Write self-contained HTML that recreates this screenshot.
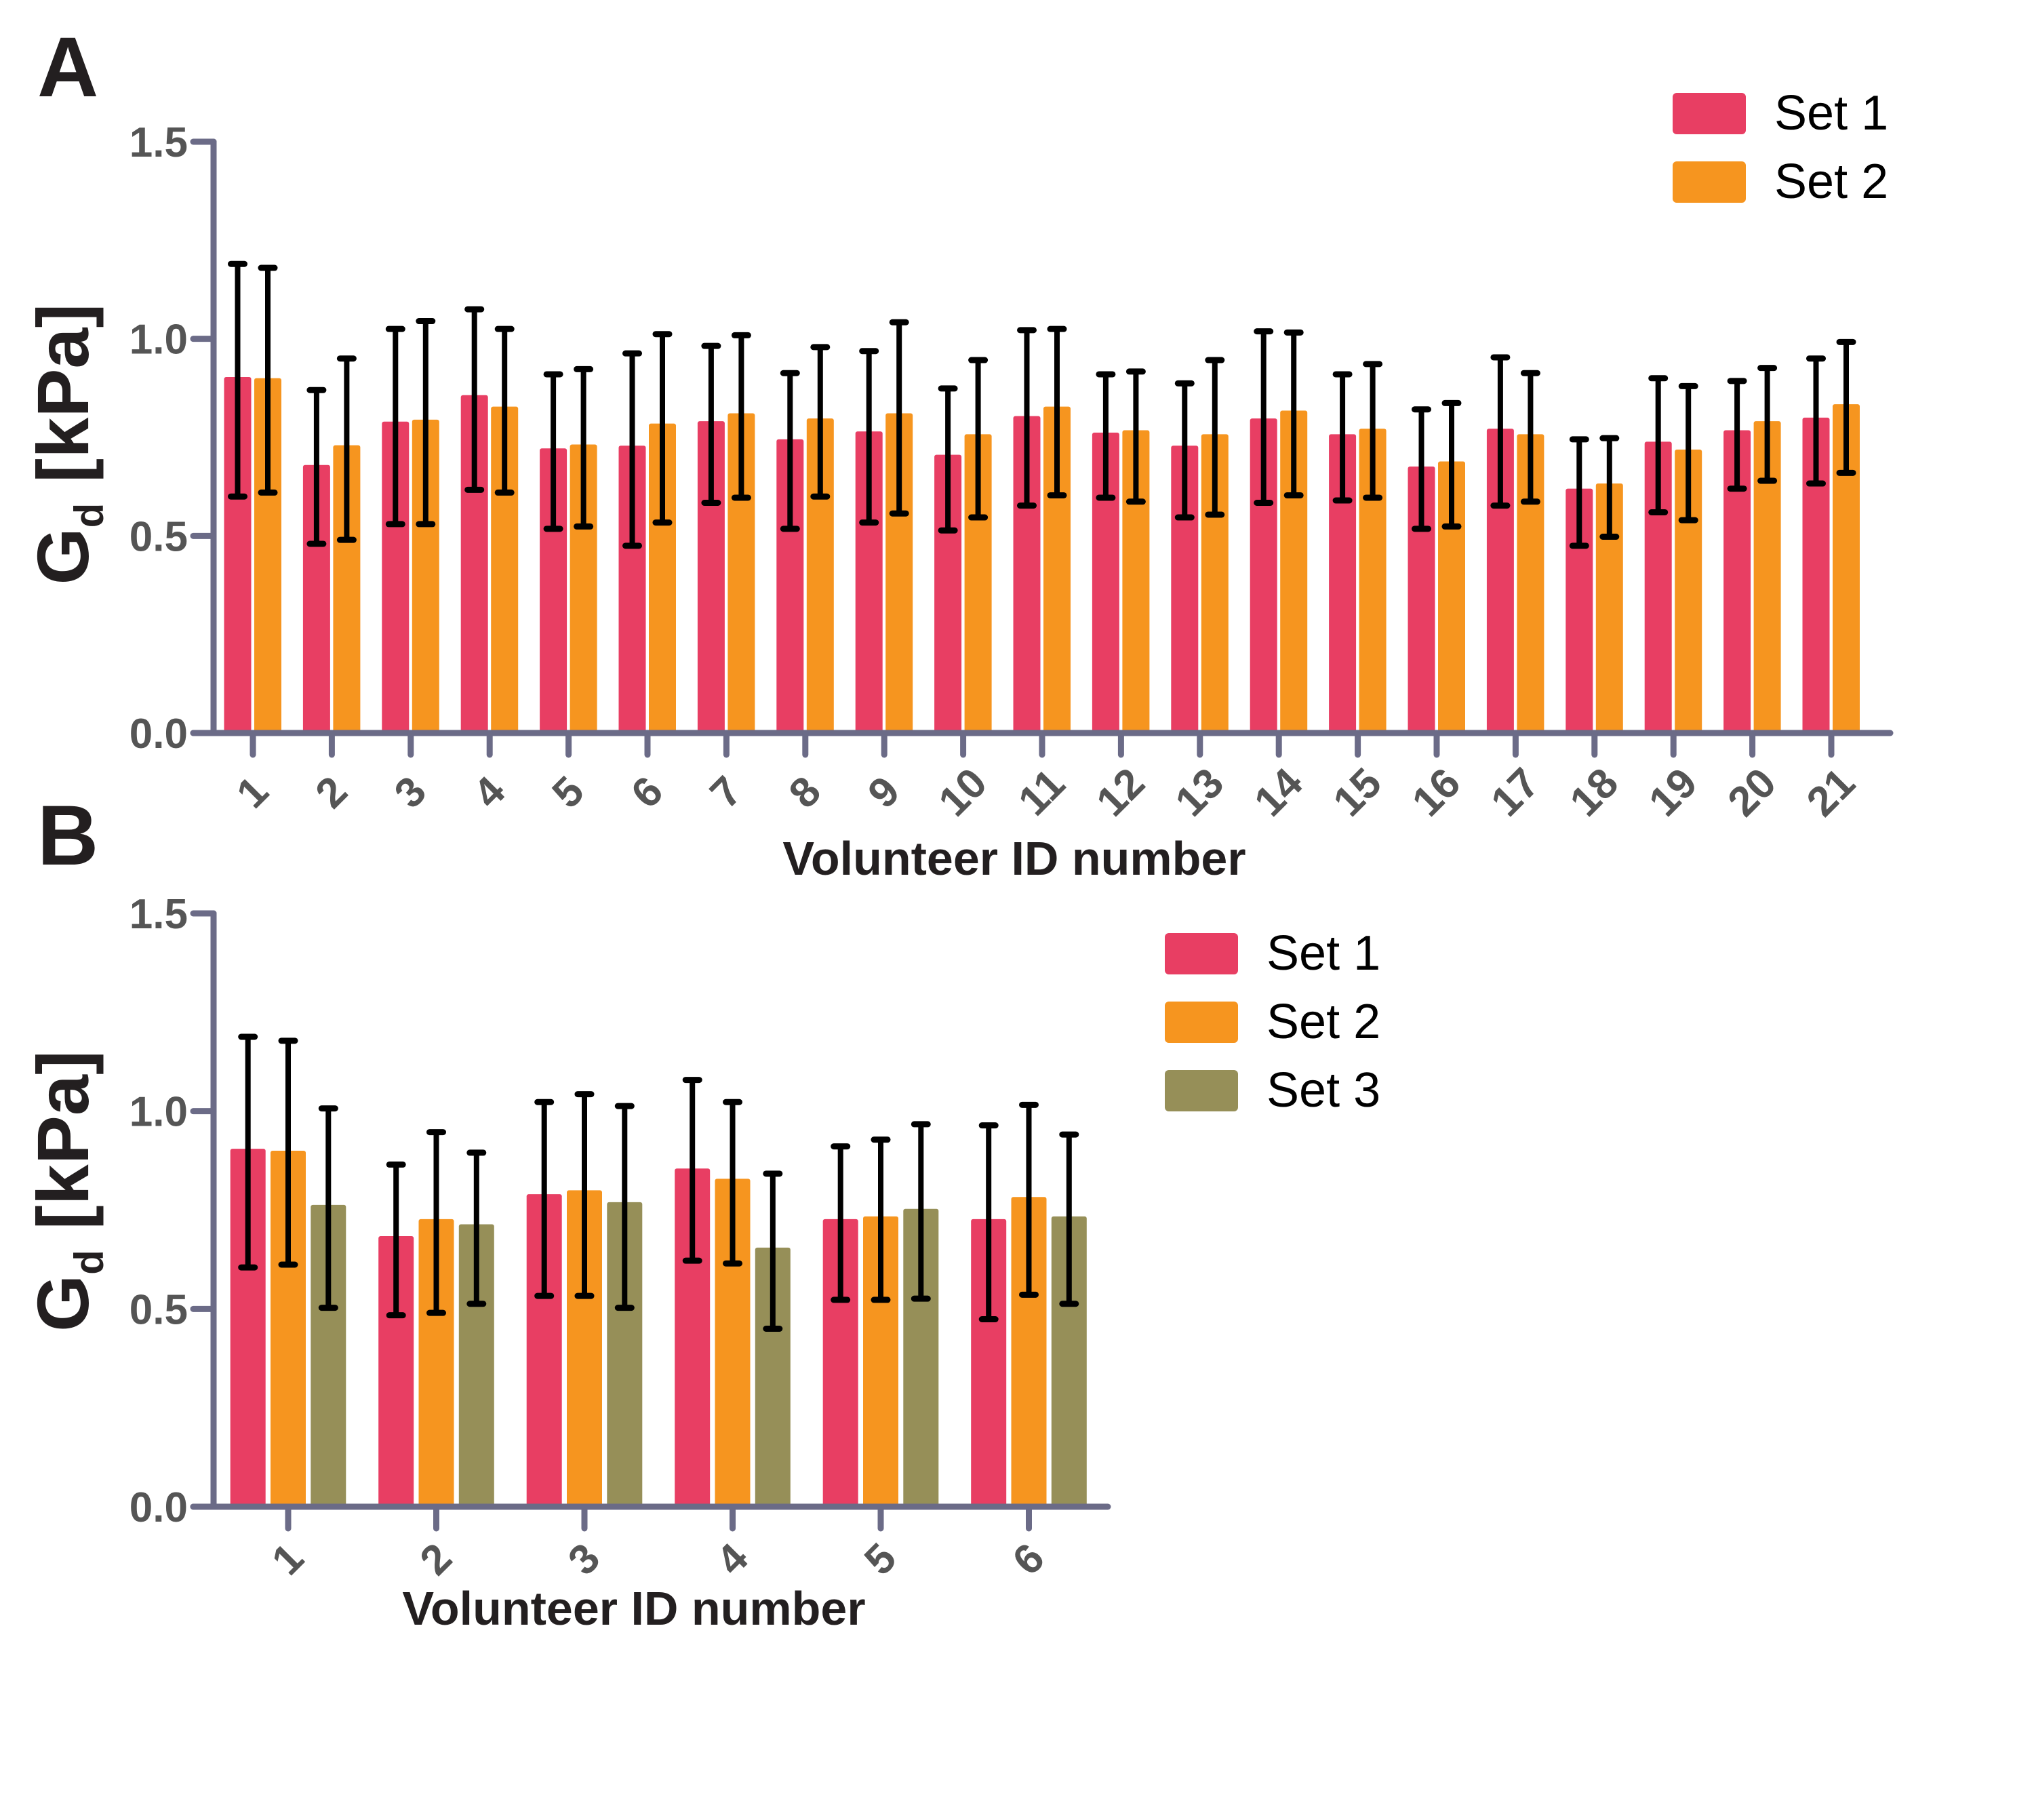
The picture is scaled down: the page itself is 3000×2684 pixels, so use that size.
<!DOCTYPE html>
<html><head><meta charset="utf-8">
<style>
html,body{margin:0;padding:0;background:#fff;}
svg{display:block;}
text{font-family:"Liberation Sans",Arial,sans-serif;}
</style></head>
<body>
<svg id="fig" width="3000" height="2684" viewBox="0 0 3000 2684" xmlns="http://www.w3.org/2000/svg"></svg>
<script>
// ---- Panel A data ----
const catsA = ["1","2","3","4","5","6","7","8","9","10","11","12","13","14","15","16","17","18","19","20","21"];
const a1Mean = [0.903,0.68,0.79,0.857,0.722,0.729,0.791,0.745,0.765,0.706,0.804,0.762,0.729,0.798,0.758,0.676,0.772,0.62,0.739,0.768,0.80];
const a1Hi   = [1.19,0.87,1.025,1.075,0.91,0.963,0.982,0.913,0.969,0.874,1.022,0.91,0.887,1.019,0.91,0.821,0.953,0.745,0.90,0.893,0.95];
const a1Lo   = [0.60,0.48,0.53,0.617,0.518,0.475,0.584,0.518,0.534,0.514,0.577,0.597,0.547,0.584,0.59,0.518,0.577,0.475,0.56,0.62,0.633];
const a2Mean = [0.90,0.73,0.795,0.828,0.732,0.785,0.811,0.798,0.811,0.758,0.828,0.768,0.758,0.818,0.772,0.689,0.758,0.633,0.719,0.791,0.834];
const a2Hi   = [1.18,0.95,1.045,1.025,0.923,1.012,1.009,0.979,1.042,0.946,1.025,0.917,0.946,1.016,0.936,0.837,0.913,0.748,0.88,0.926,0.992];
const a2Lo   = [0.61,0.49,0.53,0.61,0.524,0.534,0.597,0.60,0.557,0.547,0.603,0.587,0.554,0.603,0.597,0.524,0.587,0.498,0.54,0.64,0.66];
// ---- Panel B data ----
const catsB = ["1","2","3","4","5","6"];
const b1Mean = [0.905,0.684,0.79,0.855,0.727,0.727];
const b1Hi   = [1.188,0.865,1.023,1.079,0.911,0.964];
const b1Lo   = [0.605,0.484,0.533,0.622,0.523,0.474];
const b2Mean = [0.90,0.727,0.80,0.829,0.734,0.783];
const b2Hi   = [1.178,0.947,1.043,1.023,0.928,1.016];
const b2Lo   = [0.612,0.49,0.533,0.615,0.523,0.536];
const b3Mean = [0.763,0.714,0.77,0.655,0.753,0.734];
const b3Hi   = [1.007,0.895,1.013,0.842,0.967,0.941];
const b3Lo   = [0.503,0.513,0.503,0.45,0.526,0.513];
const yTicks = [0,0.5,1.0,1.5];
const yTickLabels = ["0.0","0.5","1.0","1.5"];

const NS="http://www.w3.org/2000/svg";
const svg=document.getElementById('fig');
const AX="#6b6b87", RED="#e83e63", ORG="#f6951f", OLV="#968f58";
function mk(tag,attrs,parent){const e=document.createElementNS(NS,tag);for(const k in attrs)e.setAttribute(k,attrs[k]);(parent||svg).appendChild(e);return e;}

function panel(cfg){
  const g=mk('g',{});
  
  
  const y=v=>cfg.y0-(v/1.5)*(cfg.y0-cfg.y15);
  const x=i=>cfg.t0+i*cfg.step;
  cfg.series.forEach((s)=>{
    s.mean.forEach((m,i)=>{
      const cx=x(i)+s.off;
      const r=mk('rect',{x:cx-cfg.bw/2,y:y(m),width:cfg.bw,height:y(0)-y(m),fill:s.color,rx:3},g);
      
      
    });
  });
  cfg.series.forEach((s)=>{
    s.mean.forEach((m,i)=>{
      const cx=x(i)+s.off;
      const eg=mk('g',{stroke:'#000','stroke-linecap':'round'},g);
      
      
      mk('line',{x1:cx,x2:cx,y1:y(s.hi[i]),y2:y(s.lo[i]),'stroke-width':8},eg);
      mk('line',{x1:cx-10,x2:cx+10,y1:y(s.hi[i]),y2:y(s.hi[i]),'stroke-width':9},eg);
      mk('line',{x1:cx-10,x2:cx+10,y1:y(s.lo[i]),y2:y(s.lo[i]),'stroke-width':9},eg);
    });
  });
  const ya=mk('line',{x1:cfg.ax,x2:cfg.ax,y1:y(1.5),y2:y(0),stroke:AX,'stroke-width':9,'stroke-linecap':'round'},g);
  
  
  const xa=mk('line',{x1:cfg.ax-30,x2:cfg.xend,y1:y(0),y2:y(0),stroke:AX,'stroke-width':9,'stroke-linecap':'round'},g);
  
  
  yTicks.forEach((t,i)=>{
    mk('line',{x1:cfg.ax-30,x2:cfg.ax,y1:y(t),y2:y(t),stroke:AX,'stroke-width':9,'stroke-linecap':'round'},g);
    const tl=mk('text',{x:cfg.ax-38,y:y(t)+22,'text-anchor':'end','font-size':62,'font-weight':'bold',fill:'#555'},g);
    tl.textContent=yTickLabels[i];
    
    
  });
  cfg.cats.forEach((c,i)=>{
    mk('line',{x1:x(i),x2:x(i),y1:y(0),y2:y(0)+32,stroke:AX,'stroke-width':9,'stroke-linecap':'round'},g);
    const lx=x(i), ly=y(0)+cfg.tlOff;
    const tl=mk('text',{x:lx,y:ly+20,'text-anchor':'middle','font-size':62,'font-weight':'bold',fill:'#555',transform:`rotate(-45 ${lx} ${ly})`},g);
    tl.textContent=c;
    
    
  });
  const xt=mk('text',{x:cfg.xtx,y:cfg.xty,'text-anchor':'middle','font-size':70,'font-weight':'bold',fill:'#231f20'},g);
  xt.textContent='Volunteer ID number';
  
  
  const cy=(y(0)+y(1.5))/2+10+cfg.ytOff;
  const yt=mk('text',{x:0,y:0,'text-anchor':'middle','font-size':108,'font-weight':'bold',fill:'#231f20',transform:`translate(130 ${cy}) rotate(-90)`},g);
  
  
  yt.innerHTML='G<tspan font-size="60" dy="22">d</tspan><tspan dy="-22"> [kPa]</tspan>';
  const pl=mk('text',{x:55,y:cfg.lettery,'font-size':125,'font-weight':'bold',fill:'#231f20'},g);
  pl.textContent=cfg.letter;
  
  
  cfg.series.forEach((s,si)=>{
    const lg=mk('g',{},g);
    
    
    const ly=cfg.legy+si*cfg.legstep;
    mk('rect',{x:cfg.legx,y:ly,width:108,height:61,rx:6,fill:s.color},lg);
    const t=mk('text',{x:cfg.legx+150,y:ly+54,'font-size':72,fill:'#000'},lg);
    t.textContent=s.label;
  });
}

panel({name:'panel-a',letter:'A',lettery:142,cats:catsA,y0:1081,y15:209,ax:315,xend:2788,t0:373,step:116.4,bw:40,
  xtx:1496,xty:1290,legx:2467,legy:137,legstep:101,tlOff:88,ytOff:0,
  series:[{key:'set1',label:'Set 1',color:RED,off:-22.5,mean:a1Mean,hi:a1Hi,lo:a1Lo},
          {key:'set2',label:'Set 2',color:ORG,off:22,mean:a2Mean,hi:a2Hi,lo:a2Lo}]});
panel({name:'panel-b',letter:'B',lettery:1275,cats:catsB,y0:2222,y15:1347,ax:315,xend:1634,t0:425,step:218.5,bw:52,
  xtx:935,xty:2396,legx:1718,legy:1376,legstep:101,tlOff:78,ytOff:-38,
  series:[{key:'set1',label:'Set 1',color:RED,off:-59.3,mean:b1Mean,hi:b1Hi,lo:b1Lo},
          {key:'set2',label:'Set 2',color:ORG,off:0,mean:b2Mean,hi:b2Hi,lo:b2Lo},
          {key:'set3',label:'Set 3',color:OLV,off:59.3,mean:b3Mean,hi:b3Hi,lo:b3Lo}]});
</script>
</body></html>
